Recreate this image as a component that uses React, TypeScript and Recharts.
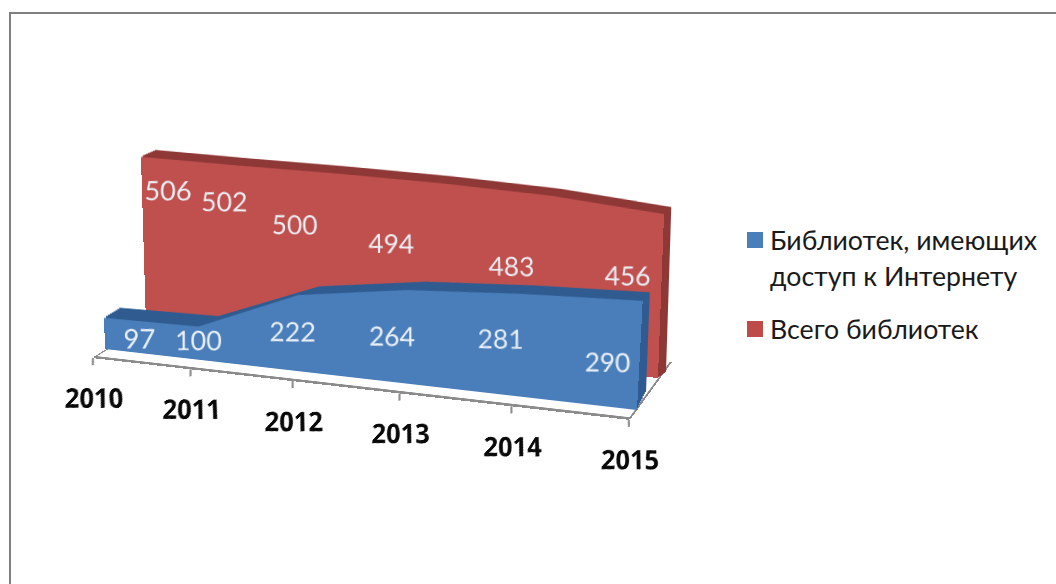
import { Area, AreaChart, LabelList, Legend, XAxis, YAxis } from "recharts";

const years = ["2010", "2011", "2012", "2013", "2014", "2015"];
const totalLibraries = [506, 502, 500, 494, 483, 456];
const onlineLibraries = [97, 100, 222, 264, 281, 290];
const totalName = "Всего библиотек";
const onlineName = "Библиотек, имеющих доступ к Интернету";

const chartData = years.map((year, i) => ({
  year,
  total: totalLibraries[i],
  online: onlineLibraries[i],
}));

const FONT = "Lato, 'Noto Sans', sans-serif";
const TICK_FONT = "'Open Sans', 'Noto Sans', sans-serif";
const PLOT_W = 540;
const PLOT_H = 220;
const FLOOR_H = 50;
const VALUE_MAX = 600;
const AXIS_GRAY = "#8c8c8c";

type Pt = [number, number];
type Quad = [Pt, Pt, Pt, Pt]; // TL, TR, BR, BL on the page

// corners of each series plane, taken off the 3D picture
const blueFront: Quad = [[99, 151], [649, 180], [637, 410], [105, 349]];
const blueBack: Quad = [[116, 147], [654, 185], [646, 392], [120, 339]];
const redFront: Quad = [[140, 125], [666, 161], [658, 378], [146, 324]];
const redBack: Quad = [[154, 119], [673, 155], [666, 372], [160, 318]];
const floorQuad: Quad = [[169.1, 310.4], [672, 362], [630, 420], [92, 358]];

// hand placed labels, page px away from the data point
const onlineLabelShift: Pt[] = [[35, 20], [0, 13], [-6, 36], [-14, 46], [-20, 45], [-36, 62]];
const totalLabelShift: Pt[] = [[27, 33], [-14, 36], [-45, 51], [-53, 60], [-41, 71], [-37, 62]];

function homography(q: Quad, w: number, h: number) {
  const [[x0, y0], [x1, y1], [x2, y2], [x3, y3]] = q;
  const dx1 = x1 - x2, dx2 = x3 - x2, dx3 = x0 - x1 + x2 - x3;
  const dy1 = y1 - y2, dy2 = y3 - y2, dy3 = y0 - y1 + y2 - y3;
  const det = dx1 * dy2 - dx2 * dy1;
  const g = (dx3 * dy2 - dx2 * dy3) / det;
  const k = (dx1 * dy3 - dx3 * dy1) / det;
  return {
    a: (x1 - x0 + g * x1) / w,
    b: (x3 - x0 + k * x3) / h,
    c: x0,
    d: (y1 - y0 + g * y1) / w,
    e: (y3 - y0 + k * y3) / h,
    f: y0,
    g: g / w,
    h: k / h,
  };
}

type H = ReturnType<typeof homography>;

function project(m: H, x: number, y: number): Pt {
  const z = m.g * x + m.h * y + 1;
  return [(m.a * x + m.b * y + m.c) / z, (m.d * x + m.e * y + m.f) / z];
}

// keeps text upright: undoes the plane's distortion around the anchor point
function uprightAt(m: H, x: number, y: number, dx: number, dy: number) {
  const p = project(m, x, y);
  const px = project(m, x + 1, y);
  const py = project(m, x, y + 1);
  const a = px[0] - p[0], b = px[1] - p[1], c = py[0] - p[0], d = py[1] - p[1];
  const det = a * d - b * c;
  return `translate(${x} ${y}) matrix(${d / det} ${-b / det} ${-c / det} ${a / det} 0 0) translate(${dx} ${dy})`;
}

function lerpQuad(from: Quad, to: Quad, t: number): Quad {
  return from.map((p, i) => [
    p[0] + (to[i][0] - p[0]) * t,
    p[1] + (to[i][1] - p[1]) * t,
  ]) as Quad;
}

function planeStyle(m: H): React.CSSProperties {
  return {
    position: "absolute",
    left: 0,
    top: 0,
    transformOrigin: "0 0",
    transform: `matrix3d(${m.a},${m.d},0,${m.g},${m.b},${m.e},0,${m.h},0,0,1,0,${m.c},${m.f},0,1)`,
  };
}

function SeriesPlane({ quad, dataKey, color, labelShift }: {
  quad: Quad;
  dataKey: string;
  color: string;
  labelShift?: Pt[];
}) {
  const m = homography(quad, PLOT_W, PLOT_H);
  return (
    <div style={planeStyle(m)}>
      <AreaChart width={PLOT_W} height={PLOT_H} data={chartData} margin={{ top: 0, right: 0, left: 0, bottom: 0 }}>
        <XAxis dataKey="year" hide />
        <YAxis hide domain={[0, VALUE_MAX]} />
        <Area
          type="linear"
          dataKey={dataKey}
          fill={color}
          fillOpacity={1}
          stroke={labelShift ? "none" : color}
          strokeWidth={labelShift ? 0 : 2}
          isAnimationActive={false}
        >
          {labelShift && (
            <LabelList
              dataKey={dataKey}
              content={(p: any) => {
                const [dx, dy] = labelShift[p.index];
                return (
                  <text
                    transform={uprightAt(m, p.x, p.y, dx, dy)}
                    textAnchor="middle"
                    dominantBaseline="central"
                    fontFamily={FONT}
                    fontSize={27}
                    fill="#eaf0f6"
                  >
                    {p.value}
                  </text>
                );
              }}
            />
          )}
        </Area>
      </AreaChart>
    </div>
  );
}

function Extruded({ front, back, dataKey, color, sideColor, labelShift }: {
  front: Quad;
  back: Quad;
  dataKey: string;
  color: string;
  sideColor: string;
  labelShift: Pt[];
}) {
  const steps = [1, 0.875, 0.75, 0.625, 0.5, 0.375, 0.25, 0.125];
  return (
    <>
      {steps.map((t) => (
        <SeriesPlane key={t} quad={lerpQuad(front, back, t)} dataKey={dataKey} color={sideColor} />
      ))}
      <SeriesPlane quad={front} dataKey={dataKey} color={color} labelShift={labelShift} />
    </>
  );
}

function Floor() {
  const m = homography(floorQuad, PLOT_W, FLOOR_H);
  const YearTick = ({ x, payload }: any) => (
    <g transform={uprightAt(m, x, FLOOR_H, 0, 0)}>
      <line x1={0} y1={0} x2={0} y2={7} stroke={AXIS_GRAY} strokeWidth={2} />
      <text
        x={1}
        y={37}
        textAnchor="middle"
        dominantBaseline="central"
        fontSize={24}
        style={{ fontFamily: TICK_FONT, fontWeight: 700 }}
        fill="#0a0a0a"
      >
        {payload.value}
      </text>
    </g>
  );
  return (
    <div style={planeStyle(m)}>
      <AreaChart width={PLOT_W} height={FLOOR_H} data={chartData} margin={{ top: 0, right: 0, left: 0, bottom: 0 }}>
        <XAxis
          dataKey="year"
          height={1}
          interval={0}
          tickLine={false}
          tick={<YearTick />}
          stroke={AXIS_GRAY}
          strokeWidth={2}
        />
        <YAxis yAxisId="left" width={1} tick={false} domain={[0, 1000]} stroke={AXIS_GRAY} strokeWidth={2} />
        <YAxis yAxisId="right" orientation="right" width={1} tick={false} domain={[0, 1000]} stroke={AXIS_GRAY} strokeWidth={2} />
        <Area yAxisId="left" dataKey="total" fill="none" stroke="none" isAnimationActive={false} />
      </AreaChart>
    </div>
  );
}

function LegendBox({ payload }: any) {
  return (
    <div style={{ fontFamily: FONT, fontSize: 26.7, lineHeight: "36px", color: "#1a1a1a" }}>
      {payload.map((item: any) => (
        <div key={item.value} style={{ position: "relative", paddingLeft: 23, marginBottom: 17 }}>
          <span
            style={{
              position: "absolute",
              left: 0,
              top: 10,
              width: 16,
              height: 16,
              background: item.color,
            }}
          />
          {item.value}
        </div>
      ))}
    </div>
  );
}

export default function App() {
  return (
    <div style={{ position: "absolute", left: 0, top: 0, width: 1056, height: 584, overflow: "hidden", background: "#fff" }}>
      <style>{".recharts-surface,.recharts-wrapper{overflow:visible !important}"}</style>
      <div style={{ position: "absolute", left: 9, top: 12, width: 1200, height: 800, border: "2px solid #808080" }} />
      <div style={{ position: "absolute", left: 0, top: 0 }}>
        <AreaChart width={1056} height={584} data={chartData}>
          <Area dataKey="online" name={onlineName} fill="#4a7ebb" stroke="#4a7ebb" legendType="rect" strokeOpacity={0} fillOpacity={0} isAnimationActive={false} />
          <Area dataKey="total" name={totalName} fill="#be4b48" stroke="#be4b48" legendType="rect" strokeOpacity={0} fillOpacity={0} isAnimationActive={false} />
          <Legend
            layout="vertical"
            content={<LegendBox />}
            wrapperStyle={{ left: 747, top: 222, width: 300, bottom: "auto" }}
          />
        </AreaChart>
      </div>
      <Floor />
      <Extruded front={redFront} back={redBack} dataKey="total" color="#c0504d" sideColor="#8e3836" labelShift={totalLabelShift} />
      <Extruded front={blueFront} back={blueBack} dataKey="online" color="#4a7ebb" sideColor="#2f5b90" labelShift={onlineLabelShift} />
    </div>
  );
}
